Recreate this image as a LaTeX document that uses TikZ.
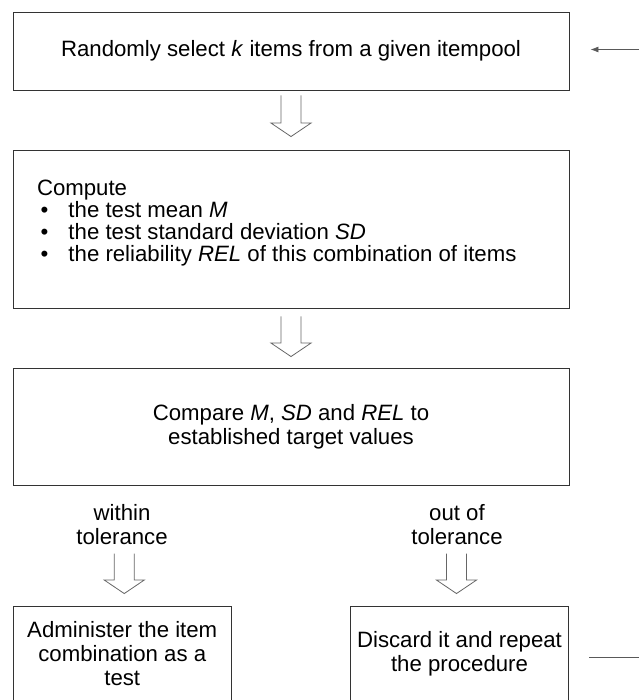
\documentclass[tikz,border=0pt]{standalone}
\usepackage{fontspec}
\setmainfont{Liberation Sans}
\usetikzlibrary{calc,arrows.meta}

\tikzset{
  box/.style={draw=black!80, line width=0.9pt, inner sep=0pt, align=center},
  lbl/.style={inner sep=0pt, align=center},
  % open-topped outline arrow: two stems and a triangular head
  hollow/.style={draw=black!60, line width=0.8pt, to path={
    let \p1=(\tikztostart), \p2=(\tikztotarget) in
    (\x1-10pt,\y1) -- (\x1-10pt,\y2+13.5pt) -- (\x1-20pt,\y2+13.5pt) --
    (\x2,\y2) -- (\x1+20pt,\y2+13.5pt) -- (\x1+10pt,\y2+13.5pt) -- (\x1+10pt,\y1)}},
  feedback/.style={draw=black!65, line width=0.8pt},
}
\newcommand{\bulletitem}{\makebox[31.5pt][l]{\hspace{3.5pt}\textbullet}}

\begin{document}
\begin{tikzpicture}[x=1pt, y=-1pt, font=\fontsize{22.2}{24}\selectfont]
  \clip (0,0) rectangle (639,700);

  % main steps
  \node[box, minimum width=556pt, minimum height=78pt] (b1) at (291,51)
    {Randomly select \textit{k} items from a given itempool};

  \node[box, minimum width=556pt, minimum height=158pt] (b2) at (291,229)
    {\parbox{508pt}{\fontsize{22.2}{22}\selectfont
      Compute\\
      \bulletitem the test mean \textit{M}\\
      \bulletitem the test standard deviation \textit{SD}\\
      \bulletitem the reliability \textit{REL} of this combination of items\par
      \vspace*{12pt}}};

  \node[box, minimum width=556pt, minimum height=117pt] (b3) at (291,426.5)
    {Compare \textit{M}, \textit{SD} and \textit{REL} to\\established target values};

  % outcomes
  \node[box, minimum width=218.5pt, minimum height=96pt] (b4) at (122.25,654)
    {Administer the item\\combination as a\\test};
  \node[box, minimum width=218pt, minimum height=96pt] (b5) at (459.5,654)
    {Discard it and repeat\\the procedure};

  \node[lbl] (w) at (122,524.5) {within\\tolerance};
  \node[lbl] (o) at (457,524.5) {out of\\tolerance};

  % flow arrows
  \draw[hollow] ($(b1.south)+(0,5)$) to ($(b2.north)+(0,-13)$);
  \draw[hollow] ($(b2.south)+(0,8)$) to ($(b3.north)+(0,-11)$);
  \draw[hollow] ($(b4.north)+(2,-52)$) to ($(b4.north)+(2,-12)$);
  \draw[hollow] ($(b5.north)+(-3,-52)$) to ($(b5.north)+(-3,-12)$);

  % loop back to the first step
  \coordinate (loopin) at (639,49.5);
  \coordinate (loopout) at (639,657);
  \draw[feedback, -{Latex[length=8pt,width=6pt]}] (loopin) -- ($(loopin -| b1.east)+(21,0)$);
  \draw[feedback] ($(loopout -| b5.east)+(20.5,0)$) -- (loopout);
\end{tikzpicture}
\end{document}
